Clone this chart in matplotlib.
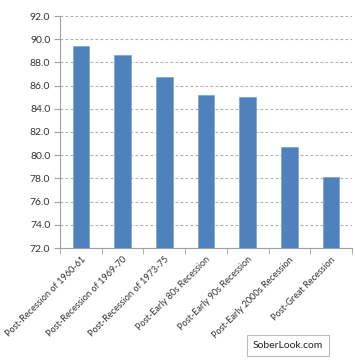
import matplotlib
matplotlib.use("Agg")
import matplotlib.pyplot as plt

categories = [
    "Post-Recession of 1960-61",
    "Post-Recession of 1969-70",
    "Post-Recession of 1973-75",
    "Post-Early 80s Recession",
    "Post-Early 90s Recession",
    "Post-Early 2000s Recession",
    "Post-Great Recession",
]
values = [89.4, 88.6, 86.7, 85.2, 85.0, 80.7, 78.1]
y_ticks = [72, 74, 76, 78, 80, 82, 84, 86, 88, 90, 92]

plt.rcParams['font.family'] = ['Lato', 'DejaVu Sans']

fig = plt.figure(figsize=(3.55, 3.62), dpi=100)
ax = fig.add_axes([60 / 355, 1 - 248 / 362, 292 / 355, 232 / 362])

x = list(range(len(categories)))
ax.bar(x, values, width=0.4, color="#4F81BD", edgecolor="#7FA6D6", linewidth=0.6, zorder=3)

ax.set_ylim(72, 92)
ax.set_xlim(-0.5, len(categories) - 0.5)
ax.set_yticks(y_ticks)
ax.set_yticklabels([f"{v:.1f}" for v in y_ticks], fontsize=7.5, color="#333333")
ax.yaxis.grid(True, linestyle=(0, (2.5, 2)), color="#B0B0B0", linewidth=0.8, zorder=0)

ax.set_xticks(x)
ax.set_xticklabels(categories, rotation=45, ha="right", va="top",
                   rotation_mode="anchor", fontsize=6.6, color="#333333")
ax.tick_params(axis="x", length=0, pad=5)
# ticks between categories
ax.set_xticks([i + 0.5 for i in range(-1, len(categories))], minor=True)
ax.tick_params(axis="x", which="minor", length=4, color="#A0A0A0", direction="out")
ax.tick_params(axis="y", length=4, color="#A0A0A0", direction="out", pad=3)

for side in ["top", "right"]:
    ax.spines[side].set_visible(False)
ax.spines["left"].set_color("#A0A0A0")
ax.spines["bottom"].set_color("#A0A0A0")

fig.text(288 / 355, 1 - 345.5 / 362, "SoberLook.com", ha="center", va="center",
         fontsize=7.5, color="#222222",
         bbox=dict(boxstyle="square,pad=0.55", facecolor="white", edgecolor="#BBBBBB", linewidth=0.8))

fig.savefig("out.png", dpi=100)
